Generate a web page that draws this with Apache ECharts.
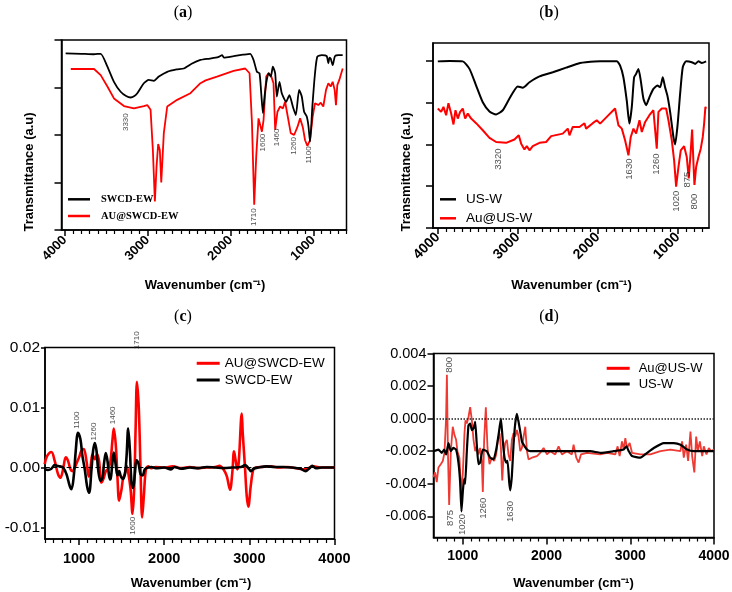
<!DOCTYPE html>
<html><head><meta charset="utf-8">
<script src="https://cdn.jsdelivr.net/npm/echarts@6/dist/echarts.min.js"></script>
<style>html,body{margin:0;padding:0;background:#fff}#c{width:732px;height:592px}</style>
</head><body><div id="c"></div>
<script>
// ---------- DATA ----------
// Panel (a): FTIR transmittance, [wavenumber, transmittance a.u.]
const a_black = [[3990,3.72],[3800,3.71],[3650,3.70],[3567,3.71],[3486,3.44],[3407,3.12],[3326,2.91],[3260,2.82],[3206,2.79],[3160,2.82],[3125,2.88],[3046,3.09],[2986,3.16],[2925,3.14],[2865,3.23],[2764,3.33],[2650,3.38],[2564,3.40],[2470,3.50],[2363,3.58],[2250,3.61],[2150,3.64],[2100,3.68],[2080,3.63],[1963,3.66],[1850,3.69],[1762,3.71],[1722,3.58],[1681,3.33],[1650,3.30],[1630,2.90],[1609,2.46],[1590,2.80],[1569,3.09],[1541,3.30],[1513,3.23],[1489,3.44],[1461,3.30],[1441,2.81],[1409,3.12],[1381,2.88],[1329,2.70],[1289,2.84],[1248,2.60],[1212,2.42],[1172,2.95],[1140,2.81],[1112,2.49],[1080,2.39],[1060,2.20],[1040,1.86],[1012,2.60],[980,3.30],[952,3.65],[899,3.68],[839,3.66],[819,3.51],[805,3.63],[791,3.61],[767,3.47],[739,3.66],[699,3.68],[646,3.68]];
const a_red = [[3928,3.39],[3800,3.39],[3647,3.39],[3567,3.26],[3486,3.02],[3407,2.77],[3286,2.61],[3166,2.56],[3046,2.61],[3005,2.63],[2965,2.53],[2937,1.68],[2913,0.60],[2893,1.33],[2873,1.81],[2853,1.68],[2836,1.00],[2805,2.04],[2764,2.60],[2644,2.74],[2484,2.88],[2363,3.09],[2300,3.15],[2163,3.23],[1963,3.35],[1822,3.40],[1802,3.40],[1770,3.30],[1741,2.25],[1714,0.53],[1690,1.54],[1662,2.35],[1642,2.32],[1621,2.07],[1601,2.32],[1569,3.23],[1541,3.30],[1513,3.26],[1481,3.09],[1461,2.11],[1433,2.49],[1401,2.60],[1368,2.56],[1341,2.70],[1309,2.39],[1273,2.04],[1232,2.00],[1192,2.17],[1160,2.35],[1128,2.17],[1100,1.89],[1072,1.77],[1040,1.89],[1008,2.39],[980,2.67],[940,2.63],[911,2.68],[880,2.60],[847,2.95],[819,3.09],[791,3.02],[767,3.12],[743,2.95],[727,2.63],[711,3.05],[687,3.16],[646,3.40]];
const a_peaks = [[3266,2.27,'3330'],[1714,0.27,'1710'],[1609,1.84,'1600'],[1441,1.95,'1460'],[1232,1.77,'1260'],[1052,1.58,'1100']];

// Panel (b)
const b_black = [[4000,3.99],[3850,4.00],[3688,3.99],[3604,3.81],[3521,3.41],[3438,3.01],[3354,2.79],[3271,2.72],[3188,2.82],[3104,3.10],[3000,3.39],[2938,3.36],[2854,3.49],[2729,3.63],[2563,3.73],[2396,3.84],[2221,3.95],[2150,3.97],[1971,3.99],[1763,3.99],[1721,3.89],[1680,3.61],[1638,3.05],[1605,2.50],[1575,2.90],[1546,3.61],[1521,3.69],[1492,3.81],[1463,3.53],[1430,3.10],[1396,2.94],[1355,3.13],[1305,3.33],[1255,3.41],[1221,3.37],[1188,3.61],[1159,3.37],[1130,3.17],[1096,2.78],[1055,2.18],[1034,2.00],[1005,2.42],[971,3.21],[938,3.85],[896,3.99],[825,3.97],[784,3.93],[742,3.99],[700,3.95],[646,3.99]];
const b_red = [[4000,2.86],[3958,2.78],[3929,2.90],[3896,2.70],[3867,2.99],[3833,2.74],[3804,2.48],[3779,2.82],[3750,2.62],[3721,2.78],[3688,2.86],[3658,2.62],[3625,2.74],[3583,2.62],[3521,2.51],[3438,2.34],[3354,2.16],[3271,2.06],[3146,2.04],[3042,2.12],[2988,2.22],[2958,2.02],[2917,1.88],[2888,1.96],[2854,1.86],[2813,1.96],[2729,2.04],[2646,2.06],[2583,2.20],[2438,2.26],[2375,2.38],[2354,2.22],[2313,2.42],[2229,2.42],[2167,2.51],[2146,2.38],[2063,2.51],[2013,2.58],[1971,2.50],[1888,2.66],[1784,2.86],[1742,2.46],[1700,2.38],[1659,2.10],[1617,1.74],[1588,2.18],[1554,2.38],[1521,2.26],[1479,2.58],[1450,2.30],[1408,2.54],[1355,2.70],[1305,2.82],[1284,2.86],[1263,1.90],[1242,2.78],[1200,2.86],[1146,2.86],[1117,2.58],[1075,2.10],[1046,1.62],[1021,0.99],[992,1.46],[963,1.86],[921,1.96],[888,1.70],[863,1.19],[838,1.86],[821,2.36],[804,1.54],[792,1.03],[771,1.46],[742,1.70],[713,1.90],[688,2.18],[671,2.50],[655,2.90],[646,2.86]];
const b_peaks = [[3242,1.65,'3320'],[1605,1.41,'1630'],[1263,1.53,'1260'],[1021,0.64,'1020'],[875,1.16,'875'],[792,0.63,'800']];

// Panel (c): second derivative
const c_red = [[596,0.00056],[624,0.0019],[675,0.0026],[714,0.0011],[753,-0.0011],[781,-0.0017],[812,-0.0003],[844,0.0017],[871,0.0011],[899,-0.0003],[922,-0.0006],[949,0],[976,0.0009],[1000,0.0017],[1028,0.0028],[1055,0.0031],[1087,0.0011],[1114,-0.0015],[1134,0],[1158,0.0022],[1185,0.0014],[1212,0.0022],[1235,0.0011],[1264,-0.0025],[1291,-0.0017],[1314,-0.0006],[1341,-0.0002],[1369,0.0011],[1393,0.0047],[1408,0.0065],[1432,0.0036],[1452,-0.0019],[1471,-0.0055],[1499,-0.0036],[1518,-0.0017],[1538,-0.0011],[1558,0.0003],[1577,-0.0008],[1605,-0.0036],[1628,-0.0077],[1647,-0.0036],[1664,0.0064],[1680,0.0143],[1702,0.0097],[1722,-0.0003],[1741,-0.0083],[1761,-0.0047],[1785,-0.0003],[1812,0.0002],[1850,-0.0001],[1900,0.0001],[2000,0],[2100,0.0002],[2200,-0.0001],[2300,0.0001],[2400,-0.0001],[2500,0],[2600,0.0001],[2650,0.0003],[2695,-0.0003],[2734,-0.0014],[2773,-0.0037],[2800,-0.0008],[2820,0.0027],[2840,0.0011],[2859,-0.0003],[2875,0.0008],[2911,0.0090],[2922,0.0058],[2949,0],[2969,-0.0047],[2988,-0.0065],[3016,-0.0031],[3047,-0.0003],[3079,0],[3150,0.0001],[3250,0.0002],[3350,0],[3450,0.0001],[3550,-0.0001],[3650,-0.0003],[3750,0.0002],[3850,0],[4000,0]];
const c_black = [[596,-0.0002],[635,-0.0004],[675,-0.0002],[714,0.0004],[741,0.0003],[773,0.0002],[812,0],[852,-0.0011],[891,-0.0031],[911,-0.0036],[938,-0.0014],[961,0.0028],[988,0.0058],[1016,0.0047],[1040,0.0019],[1067,-0.0003],[1094,-0.0031],[1118,-0.0042],[1146,-0.0003],[1165,0.0028],[1185,0.0041],[1205,0.0028],[1224,-0.0003],[1252,-0.0022],[1275,-0.0017],[1294,0.0008],[1314,0.0024],[1334,0.0011],[1353,-0.0014],[1369,-0.0020],[1388,0.0003],[1408,0.0025],[1432,0.0003],[1452,-0.0013],[1471,-0.0006],[1491,-0.0015],[1511,-0.0019],[1538,-0.0011],[1558,0.0019],[1577,0.0065],[1596,0.0031],[1616,-0.0025],[1635,-0.0034],[1655,-0.0011],[1675,0.0012],[1699,0.0006],[1722,-0.0011],[1746,-0.0013],[1773,-0.0003],[1812,0],[1850,0.0001],[1900,-0.0001],[2000,0],[2080,-0.0003],[2120,0.0001],[2200,-0.0002],[2300,0],[2400,-0.0001],[2500,0.0001],[2600,0],[2700,-0.0001],[2800,0],[2900,0.0001],[2950,0.0004],[3000,-0.0003],[3020,-0.0006],[3050,-0.0002],[3100,0],[3200,0.0002],[3300,0.0001],[3400,0.0001],[3500,0],[3600,-0.0002],[3660,-0.0006],[3700,-0.0002],[3740,0.0003],[3780,-0.0001],[3850,0],[3950,0],[4000,0]];
const c_peaks = [[976,0.0079,'1100'],[1173,0.0060,'1260'],[1400,0.0087,'1460'],[1628,-0.0097,'1600'],[1675,0.0212,'1710']];

// Panel (d)
const d_red = [[649,-0.0036],[669,-0.0033],[689,-0.0039],[709,-0.0030],[737,-0.0028],[761,-0.0026],[781,-0.0021],[800,0.0000],[810,0.0027],[822,-0.0020],[837,-0.0053],[857,-0.0020],[880,-0.0005],[900,-0.0010],[920,-0.0013],[936,-0.0020],[960,-0.0024],[980,-0.0045],[1000,-0.0034],[1020,-0.0009],[1032,-0.0001],[1048,-0.0003],[1068,0.0001],[1088,0.0007],[1108,-0.0001],[1128,-0.0013],[1148,-0.0020],[1167,-0.0017],[1187,-0.0022],[1207,-0.0018],[1227,-0.0026],[1239,-0.0045],[1255,-0.0013],[1275,0.0007],[1295,-0.0018],[1319,-0.0028],[1347,-0.0024],[1375,-0.0026],[1399,-0.0022],[1419,-0.0013],[1439,-0.0009],[1455,-0.0018],[1471,-0.0038],[1486,-0.0024],[1506,-0.0015],[1526,-0.0013],[1546,-0.0022],[1566,-0.0026],[1586,-0.0013],[1606,-0.0009],[1626,-0.0011],[1646,-0.0007],[1666,-0.0011],[1686,-0.0020],[1706,-0.0018],[1726,-0.0011],[1746,-0.0005],[1766,-0.0020],[1785,-0.0025],[1825,-0.0024],[1885,-0.0023],[1925,-0.0021],[1965,-0.0018],[2005,-0.0022],[2044,-0.0020],[2104,-0.0022],[2144,-0.0017],[2184,-0.0022],[2244,-0.0020],[2303,-0.0022],[2323,-0.0016],[2355,-0.0024],[2383,-0.0027],[2411,-0.0022],[2483,-0.0021],[2642,-0.0022],[2722,-0.0021],[2821,-0.0022],[2849,-0.0017],[2873,-0.0023],[2901,-0.0014],[2921,-0.0019],[2941,-0.0012],[2961,-0.0018],[2993,-0.0015],[3021,-0.0021],[3120,-0.0022],[3240,-0.0022],[3360,-0.0020],[3479,-0.0019],[3599,-0.0020],[3619,-0.0014],[3639,-0.0024],[3667,-0.0016],[3691,-0.0026],[3719,-0.0008],[3739,-0.0023],[3765,-0.0033],[3787,-0.0011],[3807,-0.0020],[3831,-0.0014],[3859,-0.0023],[3878,-0.0017],[3910,-0.0022],[3938,-0.0018],[3966,-0.0020],[3998,-0.0019]];
const d_black = [[649,-0.0020],[709,-0.0019],[749,-0.0021],[777,-0.0019],[801,-0.0022],[829,-0.0015],[856,-0.0020],[888,-0.0018],[920,-0.0019],[948,-0.0027],[968,-0.0039],[984,-0.0057],[1000,-0.0045],[1016,-0.0037],[1028,-0.0040],[1048,-0.0020],[1068,-0.0004],[1088,-0.0003],[1108,-0.0007],[1128,-0.0006],[1148,-0.0002],[1167,-0.0016],[1187,-0.0028],[1207,-0.0027],[1239,-0.0019],[1287,-0.0020],[1327,-0.0024],[1367,-0.0025],[1399,-0.0019],[1427,-0.0010],[1455,0.0000],[1478,-0.0014],[1498,-0.0024],[1518,-0.0027],[1534,-0.0026],[1554,-0.0039],[1566,-0.0044],[1586,-0.0035],[1606,-0.0016],[1626,-0.0003],[1646,0.0003],[1666,-0.0002],[1686,-0.0008],[1706,-0.0014],[1726,-0.0016],[1766,-0.0019],[1805,-0.0020],[1965,-0.0020],[2124,-0.0020],[2523,-0.0020],[2643,-0.0021],[2802,-0.0020],[2922,-0.0019],[2954,-0.0017],[2982,-0.0020],[3021,-0.0023],[3121,-0.0024],[3201,-0.0021],[3281,-0.0018],[3400,-0.0015],[3520,-0.0015],[3600,-0.0016],[3679,-0.0019],[3759,-0.0020],[3998,-0.0020]];
const d_peaks = [[841,0.0033,'800'],[848,-0.0061,'875'],[1000,-0.0065,'1020'],[1247,-0.0055,'1260'],[1574,-0.0057,'1630']];

// Tick values
const xMajorTicks = [1000, 2000, 3000, 4000];
const yTicksA = [0, 1, 2, 3, 4];
const yTicksB = [0, 1, 2, 3, 4];
const yTicksC = [-0.01, 0, 0.01, 0.02];
const yTicksD = [-0.006, -0.004, -0.002, 0, 0.002, 0.004];

// ---------- CHART ----------
const SANS = "'Liberation Sans', Arial, Helvetica, sans-serif";
const SERIF = "'Liberation Serif', 'Times New Roman', serif";
const RED = '#ff0000';
const RED_D = '#ee3a33';

const chart = echarts.init(document.getElementById('c'), null, {renderer: 'canvas'});

const grids = [
  {left: 61.5, top: 40, width: 285, height: 190},
  {left: 433, top: 43, width: 276, height: 185},
  {left: 45, top: 347.5, width: 289.5, height: 191.5},
  {left: 433.5, top: 353.5, width: 280.5, height: 184}
].map(g => Object.assign({show: true, borderColor: '#000', borderWidth: 1.5, backgroundColor: 'transparent', containLabel: false, outerBoundsMode: 'none'}, g));

function xPair(gi, min, max, inverse, label, majorLen, minorLen) {
  const majors = xMajorTicks.filter(v => v >= min && v <= max);
  const minors = [];
  for (let v = Math.ceil(min / 100) * 100; v <= max; v += 100) if (v % 1000 !== 0) minors.push(v);
  return [
    {type: 'value', gridIndex: gi, min: min, max: max, inverse: inverse, position: 'bottom',
     axisLine: {show: true, onZero: false, lineStyle: {color: '#000', width: 1.5}},
     axisTick: {show: true, customValues: majors, length: majorLen, lineStyle: {color: '#000', width: 1.5}},
     axisLabel: Object.assign({show: true, customValues: majors, formatter: v => String(Math.round(v)), color: '#000', fontFamily: SANS, fontWeight: 'bold'}, label),
     splitLine: {show: false}},
    {type: 'value', gridIndex: gi, min: min, max: max, inverse: inverse, position: 'bottom',
     axisLine: {show: false, onZero: false},
     axisTick: {show: true, customValues: minors, length: minorLen, lineStyle: {color: '#000', width: 1.2}},
     axisLabel: {show: false}, splitLine: {show: false}}
  ];
}

const xAxes = [].concat(
  xPair(0, 600, 4040, true, {rotate: 45, fontSize: 13, margin: 8}, 6, 4),
  xPair(1, 610, 4060, true, {rotate: 45, fontSize: 14, margin: 7}, 6, 4),
  xPair(2, 600, 4000, false, {fontSize: 14.5, margin: 12}, 6, 4),
  xPair(3, 650, 4000, false, {fontSize: 14, margin: 12}, 7, 4)
);

const yBase = {type: 'value', splitLine: {show: false},
  axisLine: {show: true, onZero: false, lineStyle: {color: '#000', width: 1.5}}};
const yAxes = [
  Object.assign({}, yBase, {gridIndex: 0, min: 0, max: 4, axisTick: {show: true, customValues: yTicksA, length: 7, lineStyle: {color: '#000', width: 1.5}}, axisLabel: {show: false}}),
  Object.assign({}, yBase, {gridIndex: 1, min: 0, max: 4.43, axisTick: {show: true, customValues: yTicksB, length: 7, lineStyle: {color: '#000', width: 1.5}}, axisLabel: {show: false}}),
  Object.assign({}, yBase, {gridIndex: 2, min: -0.0119, max: 0.02, axisTick: {show: true, customValues: yTicksC, length: 4, lineStyle: {color: '#000', width: 1.5}},
    axisLabel: {show: true, customValues: yTicksC, formatter: v => v.toFixed(2), color: '#000', fontFamily: SANS, fontSize: 15.5, margin: 5}}),
  Object.assign({}, yBase, {gridIndex: 3, min: -0.0073, max: 0.004, axisTick: {show: true, customValues: yTicksD, length: 6, lineStyle: {color: '#000', width: 1.5}},
    axisLabel: {show: true, customValues: yTicksD, formatter: v => v.toFixed(3), color: '#000', fontFamily: SANS, fontSize: 14.5, margin: 7}})
];

function line(name, gi, data, color, width, smooth, z, extra) {
  return Object.assign({type: 'line', name: name, xAxisIndex: gi * 2, yAxisIndex: gi, data: data,
    showSymbol: false, symbol: 'none', smooth: smooth, lineStyle: {color: color, width: width},
    itemStyle: {color: color}, z: z, silent: true, animation: false}, extra || {});
}
function peaks(gi, arr, size) {
  return {type: 'scatter', xAxisIndex: gi * 2, yAxisIndex: gi, silent: true, clip: false, z: 10,
    symbolSize: 1, itemStyle: {color: 'rgba(0,0,0,0)'}, animation: false,
    data: arr.map(p => ({value: [p[0], p[1]], name: p[2]})),
    label: {show: true, position: 'inside', rotate: 90, formatter: '{b}', fontFamily: SANS, fontSize: size, color: '#222'}};
}

const series = [
  line('AU@SWCD-EW', 0, a_red, RED, 1.8, false, 2),
  line('SWCD-EW', 0, a_black, '#000', 1.8, 0.2, 3),
  peaks(0, a_peaks, 8),
  line('Au@US-W', 1, b_red, RED, 2, false, 2),
  line('US-W', 1, b_black, '#000', 2, 0.2, 3),
  peaks(1, b_peaks, 9.5),
  line('AU@SWCD-EW', 2, c_red, RED, 2.6, 0.35, 2),
  line('SWCD-EW', 2, c_black, '#000', 2.6, 0.35, 3, {markLine: {silent: true, symbol: ['none', 'none'], label: {show: false},
    lineStyle: {color: '#000', type: 'dashed', width: 1.2}, data: [{yAxis: 0}], animation: false}}),
  peaks(2, c_peaks, 8),
  line('Au@US-W', 3, d_red, RED_D, 1.8, false, 2),
  line('US-W', 3, d_black, '#000', 2.2, 0.15, 3, {markLine: {silent: true, symbol: ['none', 'none'], label: {show: false},
    lineStyle: {color: '#222', type: 'dotted', width: 1.5}, data: [{yAxis: -0.002}], animation: false}}),
  peaks(3, d_peaks, 9.5)
];

const legends = [
  {data: ['SWCD-EW', 'AU@SWCD-EW'], left: 68, top: 193.3, itemWidth: 22, itemHeight: 2.5, itemGap: 4.7,
   textStyle: {fontFamily: SERIF, fontWeight: 'bold', fontSize: 10.5, lineHeight: 12, color: '#000', padding: [0, 0, 0, 6]}},
  {data: ['US-W', 'Au@US-W'], left: 440, top: 192.3, itemWidth: 16, itemHeight: 2.5, itemGap: 5,
   textStyle: {fontFamily: SANS, fontSize: 13.5, lineHeight: 14, color: '#000', padding: [0, 0, 0, 5]}},
  {data: ['AU@SWCD-EW', 'SWCD-EW'], left: 196.7, top: 356.3, itemWidth: 23, itemHeight: 3, itemGap: 2.7,
   textStyle: {fontFamily: SANS, fontSize: 13.5, lineHeight: 14, color: '#000'}},
  {data: ['Au@US-W', 'US-W'], left: 606.7, top: 361.8, itemWidth: 23, itemHeight: 3, itemGap: 2.7,
   textStyle: {fontFamily: SANS, fontSize: 13, lineHeight: 13, color: '#000', padding: [0, 0, 0, 4]}}
].map(l => Object.assign({orient: 'vertical', selectedMode: false, padding: 0, icon: 'rect'}, l));

function title(x, y, letter) {
  return {type: 'text', x: x, y: y, silent: true, style: {
    text: '{p|(}{b|' + letter + '}{p|)}', align: 'center', verticalAlign: 'middle',
    textAlign: 'center', textVerticalAlign: 'middle',
    rich: {p: {fontFamily: SERIF, fontSize: 16, fill: '#000'}, b: {fontFamily: SERIF, fontSize: 16, fontWeight: 'bold', fill: '#000'}}}};
}
function gtext(x, y, txt, rot, size) {
  return {type: 'text', x: x, y: y, rotation: rot, silent: true, style: {
    text: txt, fontFamily: SANS, fontWeight: 'bold', fontSize: size, fill: '#000',
    align: 'center', verticalAlign: 'middle', textAlign: 'center', textVerticalAlign: 'middle'}};
}
const graphics = [
  title(183, 13, 'a'), title(549, 13, 'b'), title(183, 317, 'c'), title(549, 317, 'd'),
  gtext(29, 172, 'Transmittance (a.u)', Math.PI / 2, 13),
  gtext(406, 172, 'Transmittance (a.u)', Math.PI / 2, 13),
  gtext(205, 285, 'Wavenumber (cm\u207B\u00B9)', 0, 13),
  gtext(571.5, 285, 'Wavenumber (cm\u207B\u00B9)', 0, 13),
  gtext(191, 583, 'Wavenumber (cm\u207B\u00B9)', 0, 13),
  gtext(573.5, 583, 'Wavenumber (cm\u207B\u00B9)', 0, 13)
];

chart.setOption({
  animation: false,
  backgroundColor: '#fff',
  grid: grids,
  xAxis: xAxes,
  yAxis: yAxes,
  legend: legends,
  series: series,
  graphic: {elements: graphics}
});
</script></body></html>
